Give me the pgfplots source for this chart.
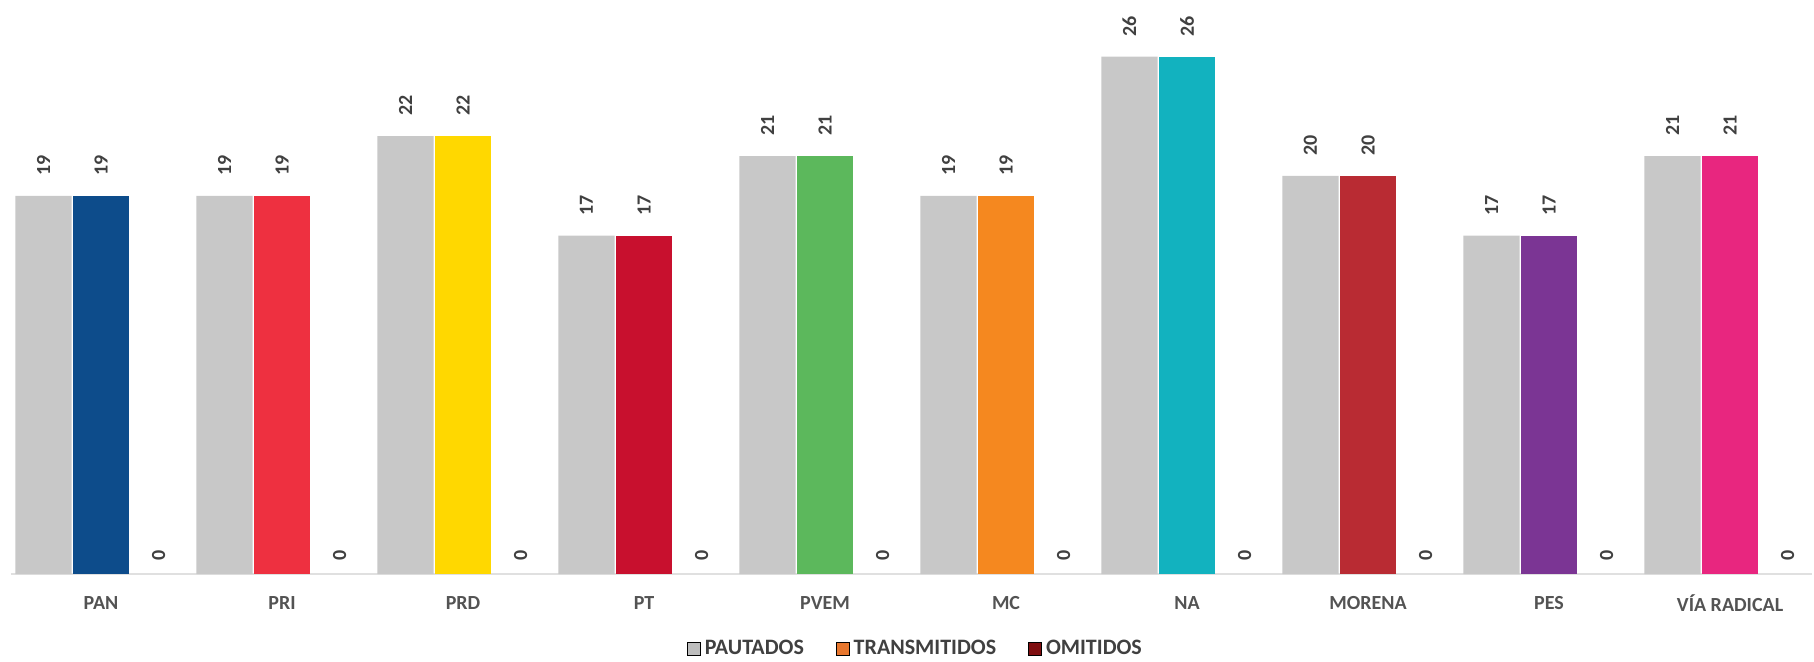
\documentclass[border=0pt]{standalone}
\usepackage{fontspec}
\setmainfont{Carlito}
\usepackage{pgfplots}
\usepackage{pgfplotstable}
\pgfplotsset{compat=1.18}
\definecolor{pgray}{HTML}{C8C8C8}
\definecolor{cpan}{HTML}{0D4C8B}
\definecolor{cpri}{HTML}{EE3040}
\definecolor{cprd}{HTML}{FFD800}
\definecolor{cpt}{HTML}{C8102E}
\definecolor{cpvem}{HTML}{5CB85C}
\definecolor{cmc}{HTML}{F5881F}
\definecolor{cna}{HTML}{12B2BF}
\definecolor{cmorena}{HTML}{B92B33}
\definecolor{cpes}{HTML}{7B3594}
\definecolor{cvia}{HTML}{E8267F}
\definecolor{ltrans}{HTML}{E8772E}
\definecolor{lomit}{HTML}{7F0E10}
\definecolor{lgray}{HTML}{BDBDBD}
\definecolor{txt}{HTML}{404040}
% PAUTADOS (x = category index - 0.318)
\pgfplotstableread{
x y
-0.318 19
0.682 19
1.682 22
2.682 17
3.682 21
4.682 19
5.682 26
6.682 20
7.682 17
8.682 21
}\pautados
% OMITIDOS (x = category index + 0.318)
\pgfplotstableread{
x y
0.318 0
1.318 0
2.318 0
3.318 0
4.318 0
5.318 0
6.318 0
7.318 0
8.318 0
9.318 0
}\omitidos
\pgfplotsset{
  cyl/.style={ybar, bar width=0.31, bar shift=0, draw=none, nodes near coords, forget plot,
    fill=#1},
}
\begin{document}
\begin{tikzpicture}
\path[use as bounding box] (-5.25pt,-43.5pt) rectangle (901.75pt,287pt);
\begin{axis}[
  scale only axis, width=900.5pt, height=283.6pt,
  xmin=-0.5, xmax=9.45, ymin=0, ymax=28.5,
  axis x line=bottom, axis y line=none,
  x axis line style={-, draw=black!12, line width=1pt},
  xtick={0,...,9},
  xticklabels={PAN,PRI,PRD,PT,PVEM,MC,NA,MORENA,PES,VÍA RADICAL},
  xtick style={draw=none},
  xticklabel style={anchor=center, yshift=-12.5pt, font=\bfseries\fontsize{10}{12}\selectfont, text=txt!90},
  /pgf/number format/assume math mode=true,
  clip=false,
  legend style={at={(0.503,-0.132)}, anchor=center, draw=none, legend columns=3,
    font=\bfseries\fontsize{11}{13}\selectfont, text=txt,
    /tikz/every even column/.append style={column sep=14pt},
    nodes={inner xsep=2pt}},
  legend image code/.code={\fill[#1] (0pt,-3.2pt) rectangle (6.5pt,3.2pt);},
  every node near coord/.append style={rotate=90, anchor=west, inner xsep=10pt,
    font=\bfseries\fontsize{10}{12}\selectfont, text=txt},
]
\addplot[cyl=pgray] table[x=x,y=y] {\pautados};
\addplot[cyl=cpan] coordinates {(0,19)};
\addplot[cyl=cpri] coordinates {(1,19)};
\addplot[cyl=cprd] coordinates {(2,22)};
\addplot[cyl=cpt] coordinates {(3,17)};
\addplot[cyl=cpvem] coordinates {(4,21)};
\addplot[cyl=cmc] coordinates {(5,19)};
\addplot[cyl=cna] coordinates {(6,26)};
\addplot[cyl=cmorena] coordinates {(7,20)};
\addplot[cyl=cpes] coordinates {(8,17)};
\addplot[cyl=cvia] coordinates {(9,21)};
\addplot[ybar, bar width=0.31, bar shift=0, fill=none, draw=none, nodes near coords,
  every node near coord/.append style={inner xsep=6.5pt}, forget plot] table[x=x,y=y] {\omitidos};
\addlegendimage{fill=lgray}
\addlegendentry{PAUTADOS}
\addlegendimage{fill=ltrans}
\addlegendentry{TRANSMITIDOS}
\addlegendimage{fill=lomit}
\addlegendentry{OMITIDOS}
\end{axis}
\end{tikzpicture}
\end{document}
